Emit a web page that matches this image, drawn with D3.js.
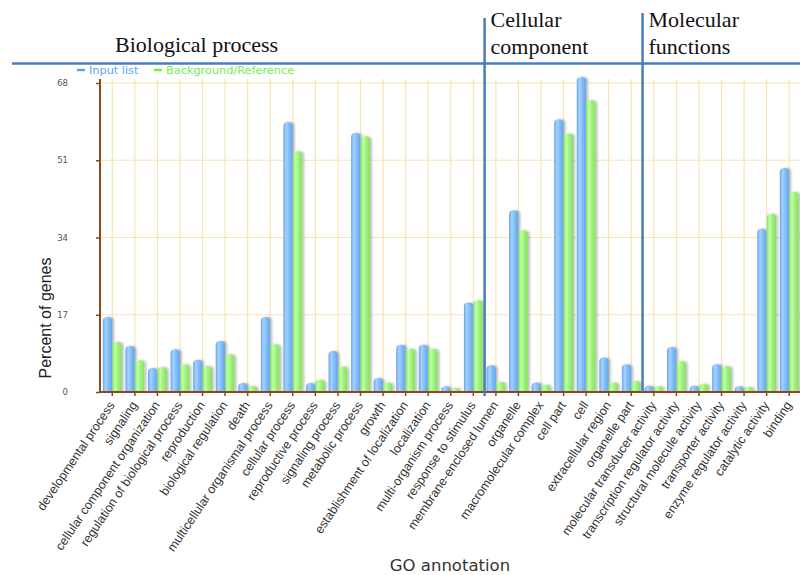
<!DOCTYPE html>
<html>
<head>
<meta charset="utf-8">
<script src="https://cdn.jsdelivr.net/npm/d3@7"></script>
<style>
  html, body { margin: 0; padding: 0; background: #fff; }
  svg { display: block; }
</style>
</head>
<body>
<svg id="chart" width="800" height="575"></svg>
<script>
// GO annotation categories (x axis)
const categories = [
  "developmental process", "signaling", "cellular component organization",
  "regulation of biological process", "reproduction", "biological regulation",
  "death", "multicellular organismal process", "cellular process",
  "reproductive process", "signaling process", "metabolic process", "growth",
  "establishment of localization", "localization", "multi-organism process",
  "response to stimulus",
  "membrane-enclosed lumen", "organelle", "macromolecular complex", "cell part",
  "cell", "extracellular region", "organelle part",
  "molecular transducer activity", "transcription regulator activity",
  "structural molecule activity", "transporter activity",
  "enzyme regulator activity", "catalytic activity", "binding"
];

// Percent of genes: input list
const inputList = [
  16.5, 10.1, 5.3, 9.4, 7.1, 11.2, 2.0, 16.5, 59.4, 2.0, 9.0, 57.0, 3.1,
  10.4, 10.4, 1.25, 19.7,
  5.9, 40.0, 2.1, 60.0, 69.3, 7.6, 6.1,
  1.4, 9.9, 1.4, 6.1, 1.25, 35.9, 49.3
];

// Percent of genes: background / reference
const reference = [
  11.0, 7.0, 5.5, 6.1, 5.7, 8.3, 1.3, 10.5, 53.0, 2.7, 5.6, 56.3, 2.1,
  9.5, 9.5, 0.9, 20.2,
  2.2, 35.6, 1.6, 56.9, 64.2, 2.1, 2.4,
  1.25, 6.8, 1.8, 5.7, 1.1, 39.2, 44.0
];

const yTicks = [0, 17, 34, 51, 68];

// Ontology sections: title lines and first category of each
const sectionTitles = [["Biological process"], ["Cellular", "component"], ["Molecular", "functions"]];
const sectionStarts = ["developmental process", "membrane-enclosed lumen", "molecular transducer activity"];

const seriesNames = ["Input list", "Background/Reference"];
const seriesColors = ["#58a8f5", "#74ec52"];

const svg = d3.select("#chart");
const defs = svg.append("defs");

const x = d3.scaleBand().domain(categories).range([101, 800.5]).paddingInner(0).paddingOuter(0);
const y = d3.scaleLinear().domain([0, 68]).range([392, 83]);
const barW = 9.4;

// bar gradients with a glossy highlight stripe
function gloss(id, stops) {
  const g = defs.append("linearGradient").attr("id", id)
    .attr("x1", "0%").attr("x2", "100%").attr("y1", "0%").attr("y2", "0%");
  stops.forEach(([o, c]) => g.append("stop").attr("offset", o).attr("stop-color", c));
}
gloss("gBlue", [["0%", "#66a6ee"], ["30%", "#a6d2ff"], ["55%", "#86c0fa"], ["100%", "#66a4ea"]]);
gloss("gGreen", [["0%", "#86e262"], ["30%", "#c2ffa6"], ["55%", "#a2f482"], ["100%", "#86e060"]]);

const shadow = defs.append("filter").attr("id", "shadow")
  .attr("x", "-50%").attr("y", "-10%").attr("width", "200%").attr("height", "120%");
shadow.append("feDropShadow").attr("dx", 2).attr("dy", 0).attr("stdDeviation", 1.2)
  .attr("flood-color", "#000").attr("flood-opacity", 0.25);

// grid
const grid = svg.append("g");
grid.selectAll("line.h").data(yTicks.filter(t => t > 0)).join("line")
  .attr("x1", 100).attr("x2", 800).attr("y1", d => y(d)).attr("y2", d => y(d))
  .attr("stroke", "#f6e4b4").attr("stroke-width", 1.2);
grid.selectAll("line.v").data(categories).join("line")
  .attr("x1", d => x(d) + x.bandwidth() / 2).attr("x2", d => x(d) + x.bandwidth() / 2)
  .attr("y1", 79).attr("y2", 392)
  .attr("stroke", "#f6e4b4").attr("stroke-width", 1.2);

// bars with rounded tops
function barPath(x0, w, top, base) {
  const r = Math.min(4.2, (base - top));
  return `M${x0},${base} L${x0},${top + r} Q${x0},${top} ${x0 + r},${top} L${x0 + w - r},${top} Q${x0 + w},${top} ${x0 + w},${top + r} L${x0 + w},${base} Z`;
}
const rows = categories.map((c, i) => ({ c, a: inputList[i], b: reference[i] }));
const bars = svg.append("g").attr("filter", "url(#shadow)");
bars.selectAll("path.a").data(rows).join("path")
  .attr("d", d => barPath(x(d.c) + x.bandwidth() / 2 - barW, barW, y(d.a), y(0)))
  .attr("fill", "url(#gBlue)");
bars.selectAll("path.b").data(rows).join("path")
  .attr("d", d => barPath(x(d.c) + x.bandwidth() / 2, barW, y(d.b), y(0)))
  .attr("fill", "url(#gGreen)");

// y axis
const axisColor = "#8a4a1e";
const yAxis = svg.append("g").attr("transform", "translate(100,0)")
  .call(d3.axisLeft(y).tickValues(yTicks).tickSize(4).tickPadding(28).tickFormat(d3.format("d")));
yAxis.select(".domain").remove();
yAxis.selectAll(".tick line").attr("stroke", axisColor).attr("stroke-width", 1.5);
yAxis.selectAll(".tick text").attr("fill", "#555").attr("font-family", "DejaVu Sans").attr("font-size", 8.5);
svg.append("line").attr("x1", 100).attr("x2", 100).attr("y1", 79).attr("y2", 393)
  .attr("stroke", axisColor).attr("stroke-width", 2);

// x axis
const xAxis = svg.append("g").attr("transform", "translate(0,392)")
  .call(d3.axisBottom(x).tickSize(4).tickSizeOuter(0));
xAxis.select(".domain").remove();
xAxis.selectAll(".tick line").attr("stroke", axisColor).attr("stroke-width", 1.5);
xAxis.selectAll(".tick text")
  .attr("font-family", "Liberation Sans, Arial, sans-serif").attr("font-size", 12.5).attr("fill", "#333")
  .attr("text-anchor", "end").attr("dy", 0).attr("y", 0)
  .attr("transform", "translate(3,13) rotate(-56)");
svg.append("line").attr("x1", 99).attr("x2", 800).attr("y1", 392).attr("y2", 392)
  .attr("stroke", axisColor).attr("stroke-width", 2);

// axis titles
svg.append("text").attr("transform", "translate(51,318) rotate(-90)")
  .attr("text-anchor", "middle").attr("font-family", "Liberation Sans, Arial, sans-serif")
  .attr("font-size", 16).attr("fill", "#222").text("Percent of genes");
svg.append("text").attr("x", 450).attr("y", 571).attr("text-anchor", "middle")
  .attr("font-family", "DejaVu Sans, sans-serif").attr("font-size", 16.5).attr("fill", "#333")
  .text("GO annotation");

// legend
const legendX = [77, 154];
seriesNames.forEach((n, i) => {
  svg.append("line").attr("x1", legendX[i]).attr("x2", legendX[i] + 8).attr("y1", 70).attr("y2", 70)
    .attr("stroke", seriesColors[i]).attr("stroke-width", 2.5);
  svg.append("text").attr("x", legendX[i] + 12).attr("y", 74)
    .attr("font-family", "DejaVu Sans, sans-serif").attr("font-size", 11.3).attr("fill", seriesColors[i])
    .text(n);
});

// section dividers and titles
const lineColor = "#4a7dbd";
svg.append("line").attr("x1", 12).attr("x2", 800).attr("y1", 63.5).attr("y2", 63.5)
  .attr("stroke", lineColor).attr("stroke-width", 2.5);
const dividerTops = [null, 18, 13];
const dividerBottoms = [null, 396, 392];
sectionStarts.forEach((s, i) => {
  const bx = x(s);
  if (i > 0) {
    svg.append("line").attr("x1", bx).attr("x2", bx)
      .attr("y1", dividerTops[i]).attr("y2", dividerBottoms[i])
      .attr("stroke", lineColor).attr("stroke-width", 2.5);
  }
  const tx = i === 0 ? 115 : bx + 6;
  const t = svg.append("text").attr("font-family", "Liberation Serif, Times New Roman, serif")
    .attr("font-size", 22).attr("fill", "#111");
  const lines = sectionTitles[i];
  lines.forEach((ln, j) => {
    t.append("tspan").attr("x", tx)
      .attr("y", lines.length === 1 ? 52 : 27 + j * 26.5).text(ln);
  });
});
</script>
</body>
</html>
